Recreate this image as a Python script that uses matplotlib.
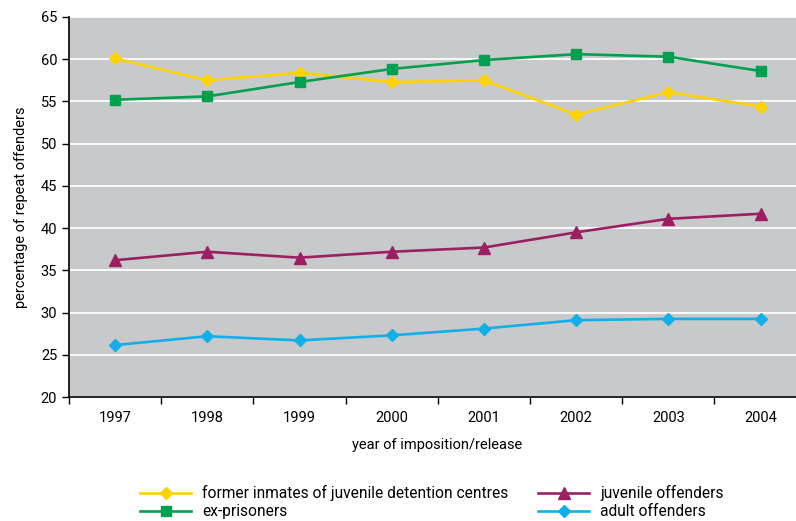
import matplotlib.pyplot as plt

years = ['1997', '1998', '1999', '2000', '2001', '2002', '2003', '2004']
juv_detention = [60.1, 57.5, 58.4, 57.3, 57.5, 53.45, 56.1, 54.4]
ex_prisoners = [55.2, 55.6, 57.3, 58.85, 59.9, 60.6, 60.3, 58.6]
juv_offenders = [36.2, 37.2, 36.5, 37.2, 37.7, 39.5, 41.1, 41.7]
adult_offenders = [26.15, 27.2, 26.7, 27.3, 28.1, 29.1, 29.25, 29.25]

plt.rcParams['font.family'] = ['Roboto', 'DejaVu Sans']

c_yellow = '#ffd200'
c_green = '#00a04e'
c_purple = '#9c1f63'
c_blue = '#12afe8'

fig = plt.figure(figsize=(7.96, 5.21), dpi=100)
# plot area runs slightly past the right edge of the figure, as in the original
ax = fig.add_axes([69/796, 1 - 397/521, (806.7 - 69)/796, (397 - 17)/521])
ax.set_facecolor('#c8c9cb')

x = range(len(years))
lw = 1.9
l1, = ax.plot(x, juv_detention, color=c_yellow, lw=lw, marker='D', ms=6)
l2, = ax.plot(x, ex_prisoners, color=c_green, lw=lw, marker='s', ms=7)
l3, = ax.plot(x, juv_offenders, color=c_purple, lw=lw, marker='^', ms=8)
l4, = ax.plot(x, adult_offenders, color=c_blue, lw=lw, marker='D', ms=6)

ax.set_xlim(-0.5, 7.5)
ax.set_ylim(20, 65)
ax.set_yticks(range(20, 70, 5))
ax.yaxis.grid(True, color='white', lw=1.3)
ax.set_axisbelow(True)

ax.set_xticks([i - 0.5 for i in range(9)])
ax.set_xticklabels([])
ax.set_xticks(list(x), minor=True)
ax.set_xticklabels(years, minor=True, fontsize=10.5)
ax.tick_params(axis='x', which='minor', length=0, pad=10)
ax.tick_params(axis='x', which='major', length=5, width=1)
ax.tick_params(axis='y', length=5, width=1, labelsize=10.5)

for s in ['top', 'right']:
    ax.spines[s].set_visible(False)
for s in ['left', 'bottom']:
    ax.spines[s].set_linewidth(1.2)

ax.set_ylabel('percentage of repeat offenders', fontsize=10.5, labelpad=9)
fig.text(437/796, 1 - 445/521, 'year of imposition/release', fontsize=10.5,
         ha='center', va='center')

leg_kw = dict(frameon=False, fontsize=11.2, handlelength=3.3, labelspacing=0.22,
              handletextpad=0.7, borderaxespad=0, borderpad=0)
fig.legend([l1, l2], ['former inmates of juvenile detention centres', 'ex-prisoners'],
           loc='upper left', bbox_to_anchor=(140/796, 1 - 485/521), **leg_kw)
fig.legend([l3, l4], ['juvenile offenders', 'adult offenders'],
           loc='upper left', bbox_to_anchor=(538/796, 1 - 485/521), **leg_kw)

fig.savefig('out.png', dpi=100)
